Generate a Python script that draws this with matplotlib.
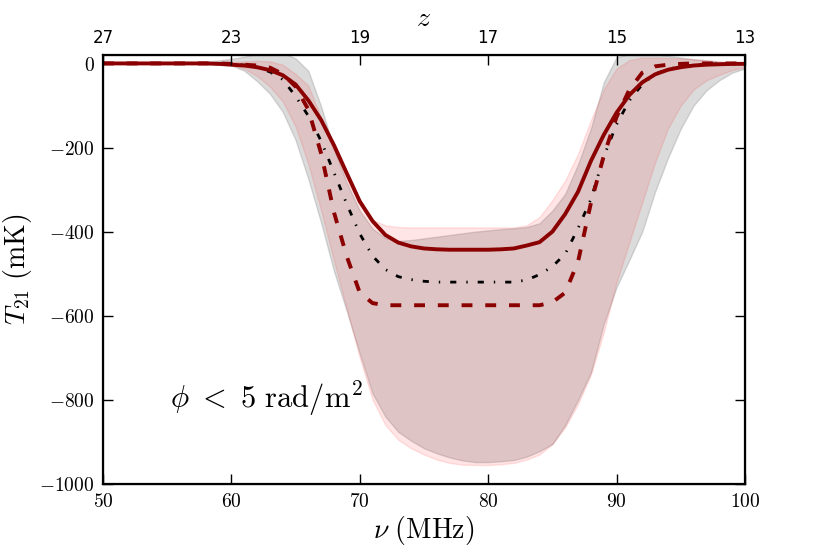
import numpy as np
import matplotlib
matplotlib.use("Agg")
import matplotlib.pyplot as plt
from matplotlib.ticker import FuncFormatter

plt.rcParams['mathtext.fontset'] = 'cm'

# frequency grid (MHz)
nu = np.arange(50, 101, 1)

# best-fit curves (mK)
t_solid = [0, 0, 0, 0, 0, 0, 0, 0, 0, -1,
           -3, -5, -9, -16, -28, -50, -88, -135, -195, -262,
           -328, -375, -408, -426, -435, -440, -442, -443, -443, -443,
           -443, -442, -440, -433, -425, -400, -358, -305, -232, -170,
           -117, -75, -45, -26, -15, -9, -5, -3, -2, -1, -1]
t_dashed = [0, 0, 0, 0, 0, 0, 0, 0, 0, 0,
            -1, -3, -5, -10, -25, -55, -110, -215, -355, -460,
            -545, -570, -575, -575, -575, -575, -575, -575, -575, -575,
            -575, -575, -575, -575, -575, -568, -545, -471, -332, -220,
            -127, -62, -22, -7, -3, -1, 0, 0, 0, 0, 0]
t_dashdot = [0, 0, 0, 0, 0, 0, 0, 0, 0, -1,
             -2, -4, -10, -20, -38, -78, -125, -185, -260, -335,
             -405, -458, -490, -507, -514, -518, -520, -520, -520, -520,
             -520, -520, -520, -515, -502, -483, -453, -392, -323, -222,
             -145, -88, -50, -25, -14, -7, -4, -2, -1, -1, 0]

# uncertainty bands (mK)
gray_hi = [0, 0, 0, 0, 0, 0, 1, 2, 4, 7,
           11, 16, 22, 26, 25, 12, -18, -103, -204, -285,
           -350, -393, -415, -422, -420, -416, -412, -408, -404, -400,
           -397, -394, -392, -389, -380, -350, -310, -240, -155, -45,
           15, 22, 25, 22, 18, 14, 10, 7, 4, 2, 1]
gray_lo = [0, 0, -1, -1, -1, -1, -1, -1, -1, -2,
           -5, -17, -42, -72, -115, -182, -275, -380, -495, -590,
           -690, -785, -840, -876, -897, -915, -927, -937, -944, -948,
           -948, -946, -943, -935, -922, -905, -860, -800, -735, -620,
           -532, -467, -400, -305, -225, -155, -100, -64, -40, -22, -12]
pink_hi = [0, 0, 0, 0, 0, 0, 0, 0, 1, 2,
           3, 5, 6, 5, -3, -25, -53, -130, -204, -274,
           -332, -372, -385, -389, -390, -390, -390, -390, -390, -390,
           -390, -390, -390, -385, -365, -325, -278, -215, -135, -62,
           -12, 8, 14, 14, 13, 12, 10, 8, 5, 3, 2]
pink_lo = [0, 0, 0, 0, 0, 0, 0, 0, -1, -2,
           -4, -12, -30, -55, -90, -150, -240, -350, -470, -585,
           -700, -800, -860, -895, -915, -930, -942, -950, -954, -955,
           -955, -953, -950, -942, -930, -905, -865, -810, -740, -640,
           -520, -425, -330, -235, -155, -100, -62, -40, -27, -16, -9]

top_ticks = [50, 60, 70, 80, 90, 100]
top_labels = ['27', '23', '19', '17', '15', '13']

fig = plt.figure(figsize=(8.3, 5.54), dpi=100)
ax = fig.add_axes([0.124, 0.1264, 0.7736, 0.7743])

ax.fill_between(nu, gray_lo, gray_hi, color='gray', alpha=0.28)
ax.fill_between(nu, pink_lo, pink_hi, color='red', alpha=0.1)

ax.plot(nu, t_dashdot, color='black', lw=2.0, dashes=(2.2, 3.6, 0.5, 3.6))
ax.plot(nu, t_dashed, color='darkred', lw=2.8, dashes=(2.8, 3.3))
ax.plot(nu, t_solid, color='darkred', lw=2.8)

ax.set_xlim(50, 100)
ax.set_ylim(-1000, 20)
ax.set_xticks(top_ticks)
ax.set_yticks([0, -200, -400, -600, -800, -1000])
fmt = FuncFormatter(lambda v, p: r'$%d$' % v)
ax.xaxis.set_major_formatter(fmt)
ax.yaxis.set_major_formatter(fmt)
ax.tick_params(axis='both', direction='in', length=7, width=1,
               labelsize=14, right=True, top=False, pad=6)
for sp in ax.spines.values():
    sp.set_linewidth(1.6)

ax.set_xlabel(r'$\nu\ \mathrm{(MHz)}$', fontsize=20, labelpad=2)
ax.set_ylabel(r'$T_{21}\ \mathrm{(mK)}$', fontsize=20, labelpad=4)

ax.text(55.2, -800, r'$\phi\ <\ 5\ \mathrm{rad/m^2}$', fontsize=22,
        ha='left', va='center')

ax2 = ax.twiny()
ax2.set_xlim(ax.get_xlim())
ax2.set_xticks(top_ticks)
ax2.set_xticklabels(top_labels)
ax2.tick_params(axis='x', direction='in', length=7, width=1,
                labelsize=12, pad=6)
ax2.set_xlabel(r'$z$', fontsize=20, labelpad=2)

fig.savefig('out.png', dpi=100)
